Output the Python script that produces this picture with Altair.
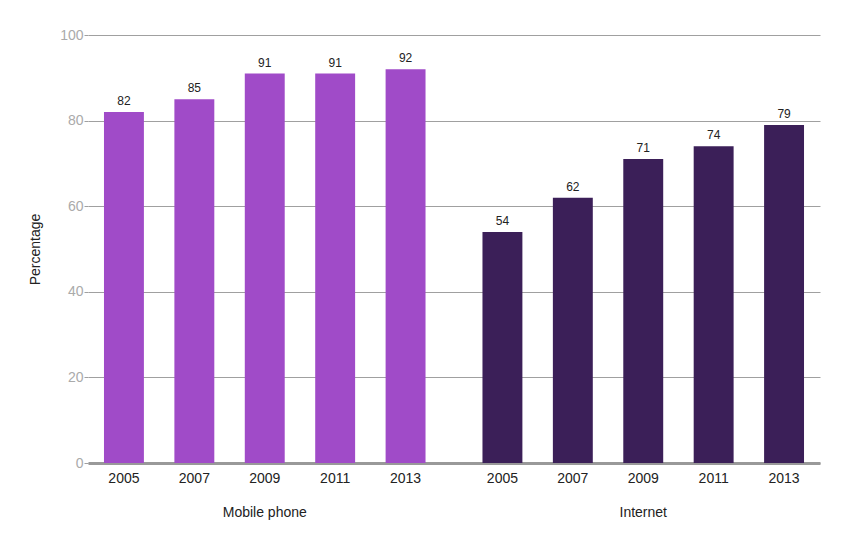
import altair as alt
import pandas as pd

groups = ["Mobile phone"] * 5 + ["Internet"] * 5
years = ["2005", "2007", "2009", "2011", "2013"] * 2
values = [82, 85, 91, 91, 92, 54, 62, 71, 74, 79]
group_order = ["Mobile phone", "Internet"]
group_colors = ["#A04BC8", "#3B1F58"]

df = pd.DataFrame({"group": groups, "year": years, "value": values})

FONT = "Liberation Sans"

x = alt.X("group:N", sort=group_order, title=None,
          scale=alt.Scale(paddingInner=0.066, paddingOuter=0),
          axis=alt.Axis(labelPadding=42, ticks=False, domain=True, domainColor="#999999",
                        domainWidth=3, labelColor="#222222", labelFontSize=14, labelFont=FONT,
                        labelAngle=0, grid=False))
xo = alt.XOffset("year:N", scale=alt.Scale(paddingInner=0.433, paddingOuter=0.227))

base = alt.Chart(df)

bars = base.mark_bar().encode(
    x=x, xOffset=xo,
    y=alt.Y("value:Q", title="Percentage", scale=alt.Scale(domain=[0, 100], nice=False),
            axis=alt.Axis(values=[0, 20, 40, 60, 80, 100], grid=True, gridColor="#A0A0A0",
                          gridWidth=1, domain=False, tickColor="#A0A0A0", tickSize=4,
                          labelColor="#AAAAAA", labelFontSize=14, labelFont=FONT, labelPadding=1,
                          titleFont=FONT, titleFontSize=14, titleFontWeight="normal",
                          titleColor="#222222", titlePadding=17)),
    color=alt.Color("group:N", sort=group_order,
                    scale=alt.Scale(domain=group_order, range=group_colors), legend=None),
)

value_labels = base.mark_text(baseline="bottom", dy=-4, fontSize=12, font=FONT,
                              color="#222222").encode(
    x=x, xOffset=xo, y="value:Q", text="value:Q")

year_labels = base.mark_text(baseline="middle", dy=16, fontSize=14, font=FONT,
                             color="#222222").encode(
    x=x, xOffset=xo, y=alt.datum(0), text="year:N")

chart = alt.layer(bars, value_labels, year_labels).properties(
    width=732, height=428,
    autosize=alt.AutoSizeParams(type="none"),
    padding={"left": 88, "top": 35, "right": 30, "bottom": 85},
).configure_view(stroke=None)

chart.save("out.html", embed_options={"renderer": "svg", "actions": False})
